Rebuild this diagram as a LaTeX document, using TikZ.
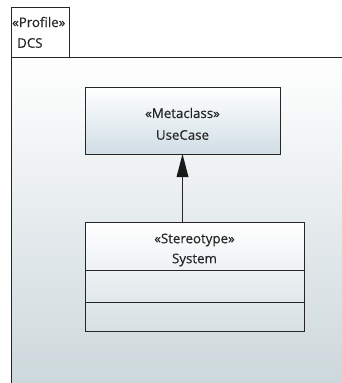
\documentclass[tikz,border=0pt]{standalone}
\usepackage{fontspec}
\setmainfont{Open Sans}
\newfontfamily\lblfont[FakeBold=0.4]{Open Sans}
\begin{document}
\begin{tikzpicture}[x=1pt,y=-1pt,
  frame/.style={draw=black!85,line width=1pt},
  lbl/.style={font=\lblfont\fontsize{13.3}{15}\selectfont,text=black!85,inner sep=0pt}]
\useasboundingbox (0,0) rectangle (342,383);
\fill[white] (0,0) rectangle (342,383);
% package body
\shade[top color=white,bottom color={rgb,255:red,205;green,216;blue,220}] (11,57) rectangle (342,383);
\draw[frame] (342,57) -- (11,57) -- (11,383);
% tab
\draw[frame,fill=white] (11,57) -- (11,7) -- (69,7) -- (69,57);
\node[lbl,anchor=west] (pst) at (12,22) {«Profile»};
\node[lbl,anchor=west] (pname) at (17,43) {DCS};
% metaclass
\shade[top color=white,bottom color={rgb,255:red,208;green,222;blue,229}] (85,87) rectangle (280,154);
\draw[frame] (85,87) rectangle (280,154);
\node (meta) at (182.5,120.5) [minimum width=195pt,minimum height=67pt,inner sep=0pt] {};
\node[lbl] (metas) at (182.5,113) {«Metaclass»};
\node[lbl] (metan) at (182.5,135) {UseCase};
% stereotype
\shade[top color=white,bottom color={rgb,255:red,214;green,224;blue,228}] (85,222) rectangle (304,331);
\draw[frame] (85,222) rectangle (304,331);
\draw[frame] (85,270) -- (304,270);
\draw[frame] (85,302) -- (304,302);
\node (st) at (194.5,276.5) [minimum width=219pt,minimum height=109pt,inner sep=0pt] {};
\node[lbl] (sts) at (194.5,240) {«Stereotype»};
\node[lbl] (stn) at (194.5,260) {System};
% extension
\coordinate (ext) at (182.5,222);
\coordinate (tip) at (182.5,154);
\draw[line width=1pt,black!85] (ext) -- (182.5,176);
\fill[black!90] (tip) -- (176.5,177) -- (188.5,177) -- cycle;
\end{tikzpicture}
\end{document}
